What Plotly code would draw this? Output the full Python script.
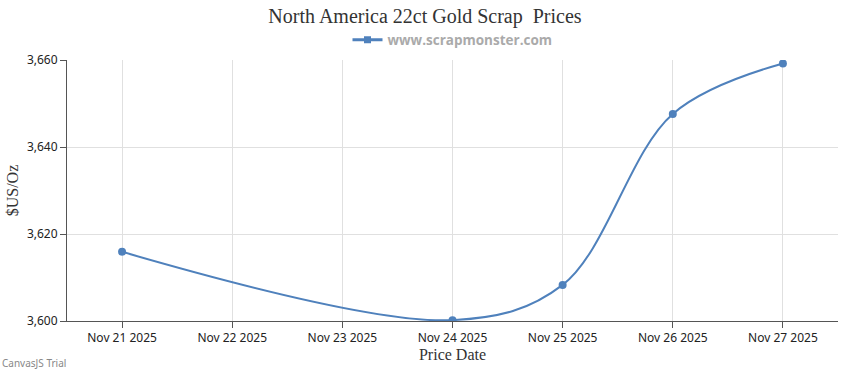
import plotly.graph_objects as go

dates = ["2025-11-21", "2025-11-24", "2025-11-25", "2025-11-26", "2025-11-27"]
prices = [3615.9, 3600.2, 3608.3, 3647.6, 3659.2]
tick_dates = ["2025-11-21", "2025-11-22", "2025-11-23", "2025-11-24", "2025-11-25", "2025-11-26", "2025-11-27"]
tick_labels = ["Nov 21 2025", "Nov 22 2025", "Nov 23 2025", "Nov 24 2025", "Nov 25 2025", "Nov 26 2025", "Nov 27 2025"]
y_ticks = [3600, 3620, 3640, 3660]
series_name = "www.scrapmonster.com"

color = "#4F81BC"

fig = go.Figure()
fig.add_trace(go.Scatter(
    x=dates, y=prices, mode="lines+markers", name=series_name, showlegend=False,
    line=dict(color=color, width=2, shape="spline", smoothing=1.0),
    marker=dict(color=color, size=8, symbol="circle"),
))
# legend entry (CanvasJS draws a line with a square marker)
fig.add_trace(go.Scatter(
    x=[None], y=[None], mode="lines+markers", name=series_name, showlegend=True,
    line=dict(color=color, width=3), marker=dict(color=color, size=7, symbol="square"),
))

fig.update_layout(
    width=850, height=370,
    margin=dict(l=67, r=12, t=60, b=49, autoexpand=False),
    paper_bgcolor="white", plot_bgcolor="white",
    title=dict(text="North America 22ct Gold Scrap  Prices", x=0.5, xanchor="center",
               y=1 - 16 / 370, yanchor="middle",
               font=dict(family="Liberation Serif", size=20, color="#333333")),
    showlegend=True,
    legend=dict(orientation="h", x=0.5, xanchor="center", yref="container", y=1 - 40 / 370, yanchor="middle",
                font=dict(family="Open Sans", size=13.5, color="#aaaaaa", weight="bold"),
                itemwidth=30),
    xaxis=dict(
        type="date", range=["2025-11-20 12:00", "2025-11-27 12:00"], automargin=False,
        tickvals=tick_dates, ticktext=tick_labels,
        showgrid=True, gridcolor="#e0e0e0", gridwidth=1,
        showline=True, linecolor="#555555", linewidth=1,
        ticks="outside", ticklen=6, tickcolor="#555555",
        tickfont=dict(family="Noto Sans", size=12, color="#222222"),
        title=dict(text="Price Date", font=dict(family="Liberation Serif", size=16, color="#333333"), standoff=2),
        zeroline=False,
    ),
    yaxis=dict(
        range=[3600, 3660], tickvals=y_ticks, tickformat=",", automargin=False,
        showgrid=True, gridcolor="#e0e0e0", gridwidth=1,
        showline=True, linecolor="#555555", linewidth=1,
        ticks="outside", ticklen=6, tickcolor="#555555",
        tickfont=dict(family="Noto Sans", size=12, color="#222222"),
        title=dict(text="$US/Oz", font=dict(family="Liberation Serif", size=16, color="#333333"), standoff=4),
        zeroline=False,
    ),
    annotations=[dict(text="CanvasJS Trial", xref="paper", yref="paper", x=-67 / 771, y=-42 / 261,
                      xanchor="left", yanchor="middle", showarrow=False,
                      font=dict(family="Noto Sans", size=10, color="#888888"))],
)

fig.write_html("out.html", config={"displayModeBar": False},
               post_script="document.body.style.margin='0';document.body.style.overflow='hidden';")
